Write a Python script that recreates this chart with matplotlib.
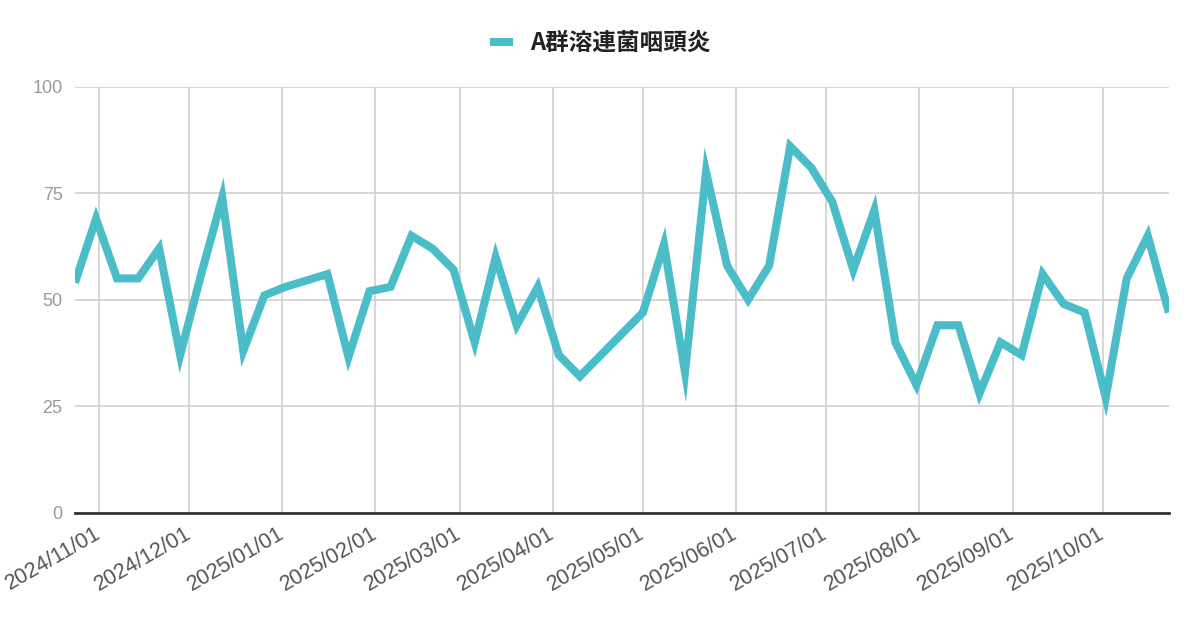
import datetime as dt

import matplotlib
matplotlib.use("Agg")
import matplotlib.dates as mdates
import matplotlib.pyplot as plt

#
# Data (weekly)
#
start_date = dt.date(2024, 10, 24)
weekly_values = [
    54, 69, 55, 55, 62, 37, 56, 74, 38, 51,
    53, 54.5, 56, 36.5, 52, 53, 65, 62, 57, 40,
    60, 44, 53, 37, 32, 37, 42, 47, 63, 33,
    80, 58, 50, 58, 86, 81, 73, 57, 71, 40,
    30, 44, 44, 28, 40, 37, 56, 49, 47, 27,
    55, 65, 47,
]
week_dates = [start_date + dt.timedelta(weeks=i) for i in range(len(weekly_values))]
series_label = "A群溶連菌咽頭炎"
y_ticks = [0, 25, 50, 75, 100]

line_color = "#4ABDC8"
grid_color = "#CCCCCC"

plt.rcParams["font.family"] = ["Liberation Sans", "DejaVu Sans"]

fig = plt.figure(figsize=(12, 6.26), dpi=100)
ax = fig.add_axes([0.0625, 0.181, 0.9115, 0.6805])

#
# Line
#
ax.plot(
    week_dates,
    weekly_values,
    color=line_color,
    linewidth=5.8,
    solid_joinstyle="miter",
    solid_capstyle="butt",
    label=series_label,
    zorder=3,
)

#
# Axes
#
ax.set_xlim(week_dates[0], week_dates[-1])
ax.set_ylim(0, 100)
ax.set_yticks(y_ticks)

ax.xaxis.set_major_locator(mdates.MonthLocator(bymonthday=1))
ax.xaxis.set_major_formatter(mdates.DateFormatter("%Y/%m/%d"))

ax.grid(True, color=grid_color, linewidth=1.1)
ax.set_axisbelow(True)

for side in ["top", "right", "left"]:
    ax.spines[side].set_visible(False)
ax.spines["bottom"].set_color("#333333")
ax.spines["bottom"].set_linewidth(2)
ax.spines["bottom"].set_zorder(4)

ax.tick_params(axis="y", length=0, pad=9, labelsize=13, labelcolor="#999999")
ax.tick_params(axis="x", length=0, pad=14, labelsize=15.5, labelcolor="#555555")

for label in ax.get_xticklabels():
    label.set_rotation(30)
    label.set_horizontalalignment("right")
    label.set_verticalalignment("center")
    label.set_rotation_mode("anchor")

#
# Legend
#
legend = ax.legend(
    loc="center",
    bbox_to_anchor=(0.5, 0.931),
    bbox_transform=fig.transFigure,
    frameon=False,
    handlelength=1.0,
    handletextpad=0.7,
    prop={"family": ["Noto Sans CJK JP", "DejaVu Sans"], "size": 17, "weight": "bold"},
)
for handle in legend.get_lines():
    handle.set_linewidth(5.8)
for text in legend.get_texts():
    text.set_color("#222222")

fig.savefig("out.png", dpi=100)
plt.close(fig)
